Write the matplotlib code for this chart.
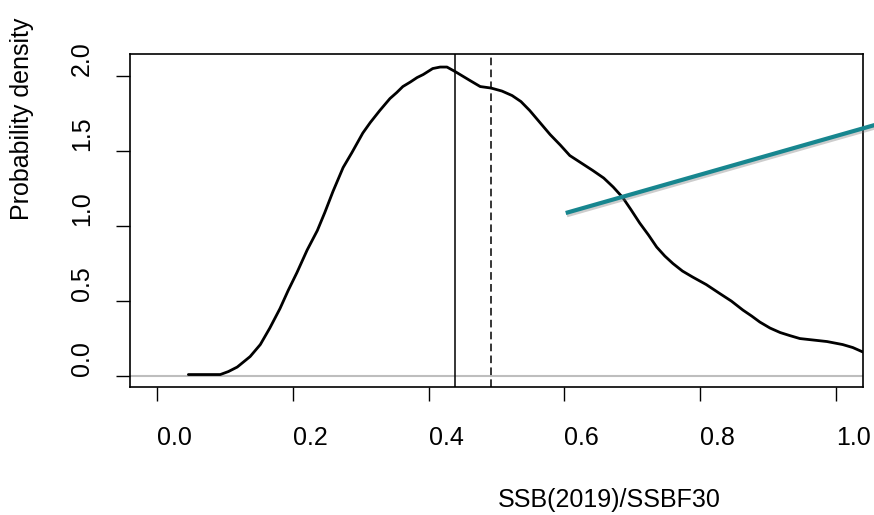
import matplotlib
matplotlib.use("Agg")
import matplotlib.pyplot as plt
import matplotlib.patheffects as pe

plt.rcParams['font.family'] = ['Liberation Sans', 'DejaVu Sans']

# density curve
dens_x = [0.046, 0.093, 0.105, 0.118, 0.137, 0.152, 0.166, 0.181, 0.193, 0.206,
          0.221, 0.236, 0.247, 0.259, 0.274, 0.287, 0.303, 0.314, 0.328, 0.343,
          0.353, 0.362, 0.373, 0.383, 0.392, 0.406, 0.417, 0.427, 0.439, 0.450,
          0.461, 0.476, 0.492, 0.508, 0.523, 0.536, 0.549, 0.564, 0.579, 0.594,
          0.608, 0.625, 0.642, 0.658, 0.672, 0.686, 0.698, 0.711, 0.724, 0.736,
          0.748, 0.760, 0.774, 0.789, 0.809, 0.829, 0.846, 0.863, 0.876, 0.888,
          0.903, 0.918, 0.932, 0.947, 0.967, 0.987, 1.010, 1.025, 1.040]
dens_y = [0.01, 0.01, 0.03, 0.06, 0.13, 0.21, 0.32, 0.45, 0.57, 0.69,
          0.84, 0.97, 1.09, 1.23, 1.39, 1.49, 1.62, 1.69, 1.77, 1.85,
          1.89, 1.93, 1.96, 1.99, 2.01, 2.05, 2.06, 2.06, 2.03, 2.00,
          1.97, 1.93, 1.92, 1.90, 1.87, 1.83, 1.77, 1.69, 1.61, 1.54,
          1.47, 1.42, 1.37, 1.32, 1.26, 1.19, 1.11, 1.02, 0.94, 0.86,
          0.80, 0.75, 0.70, 0.66, 0.61, 0.55, 0.50, 0.44, 0.40, 0.36,
          0.32, 0.29, 0.27, 0.25, 0.24, 0.23, 0.21, 0.19, 0.16]

solid_vline = 0.439
dashed_vline = 0.492

teal_x = [0.602, 1.07]
teal_y = [1.087, 1.69]

xticks = [0.0, 0.2, 0.4, 0.6, 0.8, 1.0]
xticklabels = ["0.0", "0.2", "0.4", "0.6", "0.8", "1.0"]
yticks = [0.0, 0.5, 1.0, 1.5, 2.0]
yticklabels = ["0.0", "0.5", "1.0", "1.5", "2.0"]

W, H = 874, 515
fig = plt.figure(figsize=(W / 100, H / 100), dpi=100)
L, R, T, B = 130, 863, 54, 387
ax = fig.add_axes([L / W, 1 - B / H, (R - L) / W, (B - T) / H])
ax.set_xlim(-0.04, 1.04)
ax.set_ylim(-0.073, 2.147)

ax.axhline(0, color='#bebebe', lw=1.5, zorder=1)
ax.plot(dens_x, dens_y, color='black', lw=2.0, zorder=3,
        solid_joinstyle='round', solid_capstyle='round')
ax.axvline(solid_vline, color='black', lw=1.1, zorder=2)
ax.axvline(dashed_vline, color='black', lw=1.1, dashes=(5.0, 2.8), zorder=2)

ax.plot(teal_x, teal_y, color='#17868f', lw=3.0, solid_capstyle='butt',
        clip_on=False, zorder=5,
        path_effects=[pe.SimpleLineShadow(offset=(0.8, -1.6), shadow_color='#707070', alpha=0.35),
                      pe.Normal()])

for s in ax.spines.values():
    s.set_linewidth(1.2)

fs = 18
ax.set_xticks(xticks)
ax.set_xticklabels(xticklabels, fontsize=fs, ha='left')
ax.set_yticks(yticks)
ax.set_yticklabels(yticklabels, fontsize=fs, rotation=90, va='bottom')
ax.tick_params(axis='both', length=10, width=1.0, direction='out')
ax.tick_params(axis='x', pad=18)
ax.tick_params(axis='y', pad=16)
for lbl in ax.get_yticklabels():
    lbl.set_y(lbl.get_position()[1])

fig.text(498 / W, 1 - 507 / H, "SSB(2019)/SSBF30", fontsize=fs, ha='left', va='baseline')
fig.text(22 / W, 1 - 220 / H, "Probability density", fontsize=fs, rotation=90,
         ha='center', va='bottom')

fig.savefig("out.png", dpi=100)
